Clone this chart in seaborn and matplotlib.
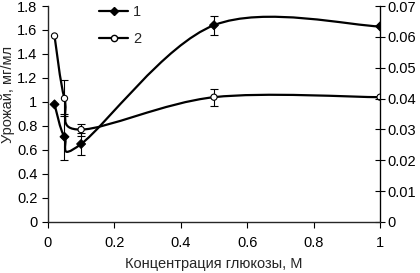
import numpy as np
import pandas as pd
import matplotlib
matplotlib.use("Agg")
import matplotlib.pyplot as plt
import seaborn as sns
from matplotlib.path import Path
from matplotlib.patches import PathPatch
from matplotlib.lines import Line2D
from matplotlib.ticker import FuncFormatter

# data
glucose = [0.02, 0.05, 0.1, 0.5, 1.0]
yield_1 = [0.98, 0.71, 0.65, 1.64, 1.63]
err_1 = [0.0, 0.19, 0.09, 0.08, 0.0]
yield_2 = [1.55, 1.03, 0.77, 1.04, 1.04]
err_2 = [0.0, 0.15, 0.05, 0.07, 0.0]
x_ticks = [0, 0.2, 0.4, 0.6, 0.8, 1]
left_ticks = [0, 0.2, 0.4, 0.6, 0.8, 1, 1.2, 1.4, 1.6, 1.8]
right_ticks = [0, 0.01, 0.02, 0.03, 0.04, 0.05, 0.06, 0.07]

sns.set_style("ticks")
plt.rcParams['font.family'] = ['Liberation Sans', 'DejaVu Sans']

df = pd.DataFrame({'x': glucose * 2,
                   'y': yield_1 + yield_2,
                   'err': err_1 + err_2,
                   'series': ['1'] * 5 + ['2'] * 5})

fig = plt.figure(figsize=(4.2, 2.73), dpi=100)
ax = fig.add_axes([0.114, 0.187, 0.791, 0.791])
ax.set_xlim(0, 1)
ax.set_ylim(0, 1.8)


def smooth_path(xs, ys, sx=1.0, sy=1.8 * 332 / 216):
    # excel-style smoothed line: cubic bezier through the points
    p = np.column_stack([np.array(xs) / sx, np.array(ys) / sy])
    n = len(p)
    verts = [p[0]]
    codes = [Path.MOVETO]
    for i in range(n - 1):
        p0 = p[max(i - 1, 0)]
        p1 = p[i]
        p2 = p[i + 1]
        p3 = p[min(i + 2, n - 1)]
        c1 = p1 + (p2 - p0) / 6
        c2 = p2 - (p3 - p1) / 6
        verts += [c1, c2, p2]
        codes += [Path.CURVE4] * 3
    verts = np.array(verts) * [sx, sy]
    return Path(verts, codes)


for s, ys in [('1', yield_1), ('2', yield_2)]:
    ax.add_patch(PathPatch(smooth_path(glucose, ys), fill=False,
                           edgecolor='black', lw=1.6, zorder=2))

for s in ['1', '2']:
    d = df[(df.series == s) & (df.err > 0)]
    ax.errorbar(d.x, d.y, yerr=d.err, fmt='none', ecolor='black',
                elinewidth=0.8, capsize=3, capthick=0.8, zorder=1)

sns.scatterplot(data=df, x='x', y='y', style='series', hue='series',
                markers={'1': 'D', '2': 'o'},
                palette={'1': 'black', '2': 'white'},
                edgecolor='black', linewidth=0.8, s=20, ax=ax,
                legend=False, zorder=3)

ax.set_xticks(x_ticks)
ax.set_yticks(left_ticks)
fmt = FuncFormatter(lambda v, p: '%g' % round(v, 3))
ax.xaxis.set_major_formatter(fmt)
ax.yaxis.set_major_formatter(fmt)
ax.tick_params(axis='both', direction='out', length=4, width=0.8,
               labelsize=10.5, colors='black')
ax.tick_params(axis='x', pad=6)
ax.set_xlabel('Концентрация глюкозы, М', fontsize=10.5, labelpad=5)
ax.set_ylabel('Урожай, мг/мл', fontsize=10.5, labelpad=3)
ax.yaxis.set_label_coords(-0.1, 0.59)
ax.spines['top'].set_visible(False)
for sp in ['left', 'bottom']:
    ax.spines[sp].set_linewidth(0.9)
    ax.spines[sp].set_color('black')

ax2 = ax.twinx()
ax2.set_ylim(0, 0.07)
ax2.set_yticks(right_ticks)
ax2.yaxis.set_major_formatter(fmt)
ax2.tick_params(axis='y', direction='inout', length=7, width=0.8,
                labelsize=10.5, colors='black', pad=2)
ax2.spines['top'].set_visible(False)
ax2.spines['right'].set_linewidth(0.9)
ax2.spines['right'].set_color('black')

handles = [Line2D([], [], color='black', lw=1.6, marker='D', markersize=4,
                  markerfacecolor='black', markeredgecolor='black'),
           Line2D([], [], color='black', lw=1.6, marker='o', markersize=4.5,
                  markerfacecolor='white', markeredgecolor='black')]
ax.legend(handles, ['1', '2'], loc='upper left', bbox_to_anchor=(0.115, 1.065),
          frameon=False, fontsize=10.5, handlelength=2.0, handletextpad=0.3,
          labelspacing=0.9)

fig.savefig('out.png', dpi=100)
